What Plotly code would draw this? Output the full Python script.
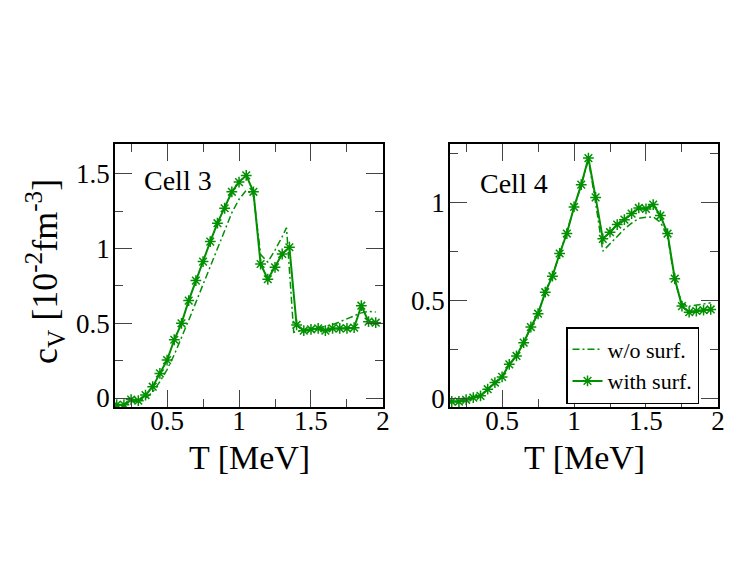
"""Specific heat c_V vs temperature for cells 3 and 4, with and without surface term."""

import plotly.graph_objects as go
from plotly.subplots import make_subplots

GREEN = '#009000'
FONT = 'Liberation Serif'

# temperature grid [MeV]
T = [0.15, 0.2, 0.25, 0.3, 0.35, 0.4, 0.45, 0.5, 0.55, 0.6, 0.65, 0.7, 0.75,
     0.8, 0.85, 0.9, 0.95, 1.0, 1.05, 1.1, 1.15, 1.2, 1.25, 1.3, 1.35, 1.4,
     1.45, 1.5, 1.55, 1.6, 1.65, 1.7, 1.75, 1.8, 1.85, 1.9, 1.95]

# cell 3
cell3_with = [-0.045, -0.045, -0.01, -0.018, 0.02, 0.076, 0.165, 0.254, 0.39, 0.5,
              0.652, 0.786, 0.913, 1.047, 1.17, 1.27, 1.38, 1.445, 1.49, 1.38,
              0.897, 0.795, 0.875, 0.964, 1.009, 0.489, 0.451, 0.46, 0.466, 0.451,
              0.466, 0.466, 0.466, 0.471, 0.618, 0.511, 0.504]
T_wo3 = [0.15, 0.2, 0.25, 0.3, 0.35, 0.4, 0.45, 0.5, 0.55, 0.6, 0.65, 0.7, 0.75,
         0.8, 0.85, 0.9, 0.95, 1.0, 1.05, 1.1, 1.15, 1.2, 1.25, 1.3, 1.33, 1.38,
         1.45, 1.5, 1.55, 1.6, 1.65, 1.7, 1.75, 1.8, 1.85, 1.9, 1.95]
cell3_wo = [-0.045, -0.045, -0.025, -0.02, 0.0, 0.04, 0.11, 0.19, 0.29, 0.4,
            0.52, 0.64, 0.76, 0.88, 1.0, 1.11, 1.24, 1.33, 1.39, 1.36,
            0.96, 0.91, 0.99, 1.08, 1.14, 0.44, 0.455, 0.46, 0.47, 0.48,
            0.49, 0.51, 0.53, 0.55, 0.57, 0.58, 0.575]

# cell 4
cell4_with = [-0.017, -0.017, -0.008, 0.003, 0.012, 0.046, 0.08, 0.109, 0.173, 0.216,
              0.284, 0.364, 0.432, 0.542, 0.624, 0.74, 0.842, 0.978, 1.092, 1.228,
              1.027, 0.815, 0.849, 0.888, 0.913, 0.944, 0.973, 0.968, 0.99, 0.934,
              0.842, 0.611, 0.471, 0.44, 0.446, 0.45, 0.454]
cell4_wo = [-0.017, -0.017, -0.008, 0.003, 0.012, 0.046, 0.08, 0.112, 0.17, 0.22,
            0.284, 0.36, 0.435, 0.54, 0.63, 0.735, 0.85, 0.97, 1.09, 1.22,
            1.0, 0.752, 0.79, 0.83, 0.865, 0.895, 0.92, 0.925, 0.927, 0.9,
            0.83, 0.6, 0.485, 0.47, 0.475, 0.48, 0.488]

W, H = 747, 578


def px(x):
    # page pixel -> paper fraction (page body has an 8px margin)
    return (x - 8) / W


def py(y):
    return 1 - (y - 8) / H


fig = make_subplots(rows=1, cols=2)

panels = [(1, T_wo3, cell3_wo, cell3_with), (2, T, cell4_wo, cell4_with)]
for col, t_wo, wo, with_s in panels:
    fig.add_trace(go.Scatter(x=t_wo, y=wo, mode='lines', name='w/o surf.',
                             line=dict(color=GREEN, width=1.5, dash='7px,3px,2px,3px'),
                             showlegend=(col == 2), legendrank=1),
                  row=1, col=col)
    fig.add_trace(go.Scatter(x=T, y=with_s, mode='lines+markers', name='with surf.',
                             line=dict(color=GREEN, width=2),
                             marker=dict(symbol='asterisk-open', size=9,
                                         line=dict(color='#1aa51a', width=1.5)),
                             showlegend=(col == 2), legendrank=2),
                  row=1, col=col)

axis_style = dict(showline=True, linecolor='black', linewidth=1.5, mirror='allticks',
                  ticks='inside', ticklen=17, tickwidth=1.2, tickcolor='#444',
                  showgrid=False, zeroline=False, automargin=False,
                  tickfont=dict(family=FONT, size=27, color='black'),
                  minor=dict(ticks='inside', ticklen=8, tickwidth=1.2, tickcolor='#444',
                             dtick=0.25, showgrid=False))

fig.update_xaxes(**axis_style, range=[0.138, 2.0005], tick0=0, dtick=0.5,
                 ticklabelstandoff=-11)
fig.update_yaxes(**axis_style, tick0=0, dtick=0.5, ticklabelstandoff=-2)
fig.update_xaxes(domain=[px(115), px(383)], row=1, col=1)
fig.update_xaxes(domain=[px(450), px(718)], row=1, col=2)
fig.update_yaxes(domain=[py(407), py(144)], range=[-0.06, 1.7], row=1, col=1)
fig.update_yaxes(domain=[py(407), py(144)], range=[-0.045, 1.3], row=1, col=2)

title_font = dict(family=FONT, size=34, color='black')
annotations = [
    dict(text='T [MeV]', x=px(250), y=py(457), xref='paper', yref='paper',
         showarrow=False, font=title_font, xanchor='center', yanchor='middle'),
    dict(text='T [MeV]', x=px(584), y=py(457), xref='paper', yref='paper',
         showarrow=False, font=title_font, xanchor='center', yanchor='middle'),
    dict(text='c<sub>V</sub> [10<sup>-2</sup>fm<sup>-3</sup>]', x=px(45), y=py(272),
         xref='paper', yref='paper', showarrow=False, textangle=-90,
         xanchor='center', yanchor='middle',
         font=dict(family=FONT, size=36, color='black')),
    dict(text='Cell 3', x=px(142), y=py(180), xref='paper', yref='paper', showarrow=False,
         xanchor='left', yanchor='middle', font=dict(family=FONT, size=28, color='black')),
    dict(text='Cell 4', x=px(478), y=py(183), xref='paper', yref='paper', showarrow=False,
         xanchor='left', yanchor='middle', font=dict(family=FONT, size=28, color='black')),
]

fig.update_layout(
    width=W, height=H, template='none',
    font=dict(family=FONT, size=27, color='black'),
    paper_bgcolor='white', plot_bgcolor='white',
    margin=dict(l=0, r=0, t=0, b=0),
    annotations=annotations,
    legend=dict(x=px(699), y=py(327), xanchor='right', yanchor='top',
                bgcolor='white', bordercolor='black', borderwidth=1.5,
                font=dict(family=FONT, size=22, color='black'),
                tracegroupgap=0, itemwidth=30),
)

fig.write_html('out.html')
